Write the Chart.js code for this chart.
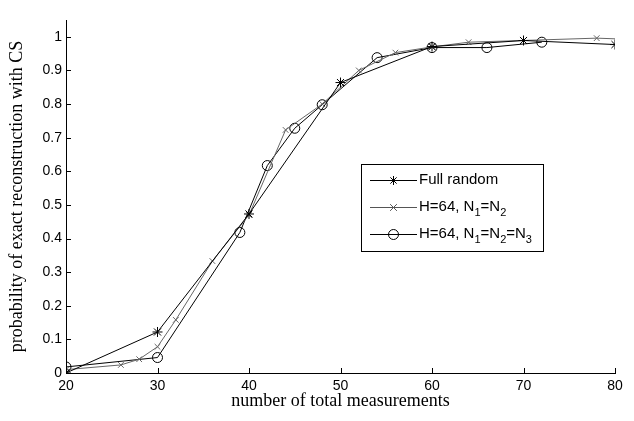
<!DOCTYPE html>
<html>
<head>
<meta charset="utf-8">
<script src="https://cdn.jsdelivr.net/npm/chart.js@4/dist/chart.umd.min.js"></script>
<style>
  html, body { margin: 0; padding: 0; background: #fff; }
  #wrap { width: 634px; height: 421px; }
</style>
</head>
<body>
<div id="wrap"><canvas id="probChart" width="634" height="421"></canvas></div>
<script>
const fullX = [20, 30, 40, 50, 60, 70, 80];
const fullY = [0, 0.122, 0.473, 0.864, 0.971, 0.989, 0.977];

const n2X = [20, 26, 28, 30, 32, 36, 40, 44, 48, 52, 56, 60, 64, 78, 80];
const n2Y = [0.01, 0.024, 0.041, 0.078, 0.158, 0.333, 0.47, 0.723, 0.80, 0.90, 0.953, 0.97, 0.984, 0.996, 0.994];

const n3X = [20, 30, 39, 42, 45, 48, 54, 60, 66, 72];
const n3Y = [0.018, 0.046, 0.418, 0.617, 0.728, 0.798, 0.938, 0.968, 0.968, 0.984];

const xTicks = [20, 30, 40, 50, 60, 70, 80];
const yTicks = [0, 0.1, 0.2, 0.3, 0.4, 0.5, 0.6, 0.7, 0.8, 0.9, 1];

const legendItems = [
  { parts: [["Full random", 0]], style: "star", color: "#000" },
  { parts: [["H=64, N", 0], ["1", 1], ["=N", 0], ["2", 1]], style: "crossRot", color: "#555" },
  { parts: [["H=64, N", 0], ["1", 1], ["=N", 0], ["2", 1], ["=N", 0], ["3", 1]], style: "circle", color: "#000" },
];

const toPoints = (xs, ys) => xs.map((x, i) => ({ x: x, y: ys[i] }));

function drawMarker(ctx, style, x, y, r) {
  ctx.beginPath();
  if (style === "circle") {
    ctx.arc(x, y, r, 0, Math.PI * 2);
  } else if (style === "crossRot") {
    const d = r * 0.75;
    ctx.moveTo(x - d, y - d); ctx.lineTo(x + d, y + d);
    ctx.moveTo(x + d, y - d); ctx.lineTo(x - d, y + d);
  } else {
    const d = r * 0.7;
    ctx.moveTo(x - r, y); ctx.lineTo(x + r, y);
    ctx.moveTo(x, y - r); ctx.lineTo(x, y + r);
    ctx.moveTo(x - d, y - d); ctx.lineTo(x + d, y + d);
    ctx.moveTo(x + d, y - d); ctx.lineTo(x - d, y + d);
  }
  ctx.stroke();
}

// inward ticks like the original figure
const innerTicks = {
  id: "innerTicks",
  afterDraw(chart) {
    const { ctx, chartArea, scales } = chart;
    ctx.save();
    ctx.strokeStyle = "#000";
    ctx.lineWidth = 1;
    yTicks.forEach((v) => {
      const py = Math.round(scales.y.getPixelForValue(v)) + 0.5;
      ctx.beginPath();
      ctx.moveTo(chartArea.left, py);
      ctx.lineTo(chartArea.left + 5, py);
      ctx.stroke();
    });
    xTicks.forEach((v) => {
      const px = Math.round(scales.x.getPixelForValue(v)) + 0.5;
      ctx.beginPath();
      ctx.moveTo(px, chartArea.bottom);
      ctx.lineTo(px, chartArea.bottom - 5);
      ctx.stroke();
    });
    ctx.restore();
  },
};

// legend with subscripts, drawn by hand
const subLegend = {
  id: "subLegend",
  afterDraw(chart) {
    const ctx = chart.ctx;
    const bx = 361, by = 164, bw = 182, bh = 87;
    ctx.save();
    ctx.fillStyle = "#fff";
    ctx.fillRect(bx, by, bw, bh);
    ctx.strokeStyle = "#000";
    ctx.lineWidth = 1;
    ctx.strokeRect(bx + 0.5, by + 0.5, bw, bh);
    legendItems.forEach((item, i) => {
      const cy = 180 + i * 27;
      ctx.strokeStyle = item.color;
      ctx.lineWidth = 1;
      ctx.beginPath();
      ctx.moveTo(370, cy + 0.5);
      ctx.lineTo(417, cy + 0.5);
      ctx.stroke();
      drawMarker(ctx, item.style, 393.5, cy + 0.5, item.style === "circle" ? 5 : 4.5);
      let tx = 419;
      ctx.fillStyle = "#000";
      ctx.textBaseline = "middle";
      item.parts.forEach(([t, sub]) => {
        ctx.font = sub ? "11px 'Liberation Sans'" : "15px 'Liberation Sans'";
        ctx.fillText(t, tx, sub ? cy + 6 : cy);
        tx += ctx.measureText(t).width;
      });
    });
    ctx.restore();
  },
};

const ctx = document.getElementById("probChart").getContext("2d");
new Chart(ctx, {
  type: "line",
  data: {
    datasets: [
      {
        label: "Full random",
        data: toPoints(fullX, fullY),
        borderColor: "#000",
        borderWidth: 1,
        pointStyle: "star",
        pointRadius: 5,
        pointBorderColor: "#000",
        pointBorderWidth: 1,
        tension: 0,
      },
      {
        label: "H=64, N1=N2",
        data: toPoints(n2X, n2Y),
        borderColor: "#666",
        borderWidth: 1,
        pointStyle: "crossRot",
        // the last point (x=80) carries no visible marker in the figure
        pointRadius: (c) => (c.dataIndex === n2X.length - 1 ? 0 : 4),
        pointBorderColor: "#666",
        pointBorderWidth: 1,
        tension: 0,
      },
      {
        label: "H=64, N1=N2=N3",
        data: toPoints(n3X, n3Y),
        borderColor: "#000",
        borderWidth: 1,
        pointStyle: "circle",
        pointRadius: 5,
        pointBackgroundColor: "rgba(0,0,0,0)",
        pointBorderColor: "#000",
        pointBorderWidth: 1,
        tension: 0,
      },
    ],
  },
  options: {
    responsive: false,
    animation: false,
    layout: { padding: { top: 20, right: 19, left: 0, bottom: 0 } },
    plugins: { legend: { display: false }, tooltip: { enabled: false } },
    scales: {
      x: {
        type: "linear",
        min: 20,
        max: 80,
        afterBuildTicks: (s) => { s.ticks = xTicks.map((v) => ({ value: v })); },
        afterFit: (s) => { s.height = 48; },
        grid: { display: false, drawTicks: false },
        border: { color: "#000", width: 1 },
        ticks: { color: "#000", padding: 5, maxRotation: 0, font: { family: "Liberation Sans", size: 14 } },
        title: {
          display: true,
          text: "number of total measurements",
          color: "#000",
          padding: { top: 0, bottom: 9 },
          font: { family: "Liberation Serif", size: 18 },
        },
      },
      y: {
        min: 0,
        max: 1.05,
        afterBuildTicks: (s) => { s.ticks = yTicks.map((v) => ({ value: v })); },
        afterFit: (s) => { s.width = 66; },
        grid: { display: false, drawTicks: false },
        border: { color: "#000", width: 1 },
        ticks: {
          color: "#000",
          padding: 4,
          font: { family: "Liberation Sans", size: 14 },
          callback: (v) => String(Math.round(v * 10) / 10),
        },
        title: {
          display: true,
          text: "probability of exact reconstruction with CS",
          color: "#000",
          padding: { top: 6, bottom: 0 },
          font: { family: "Liberation Serif", size: 18 },
        },
      },
    },
  },
  plugins: [innerTicks, subLegend],
});
</script>
</body>
</html>
